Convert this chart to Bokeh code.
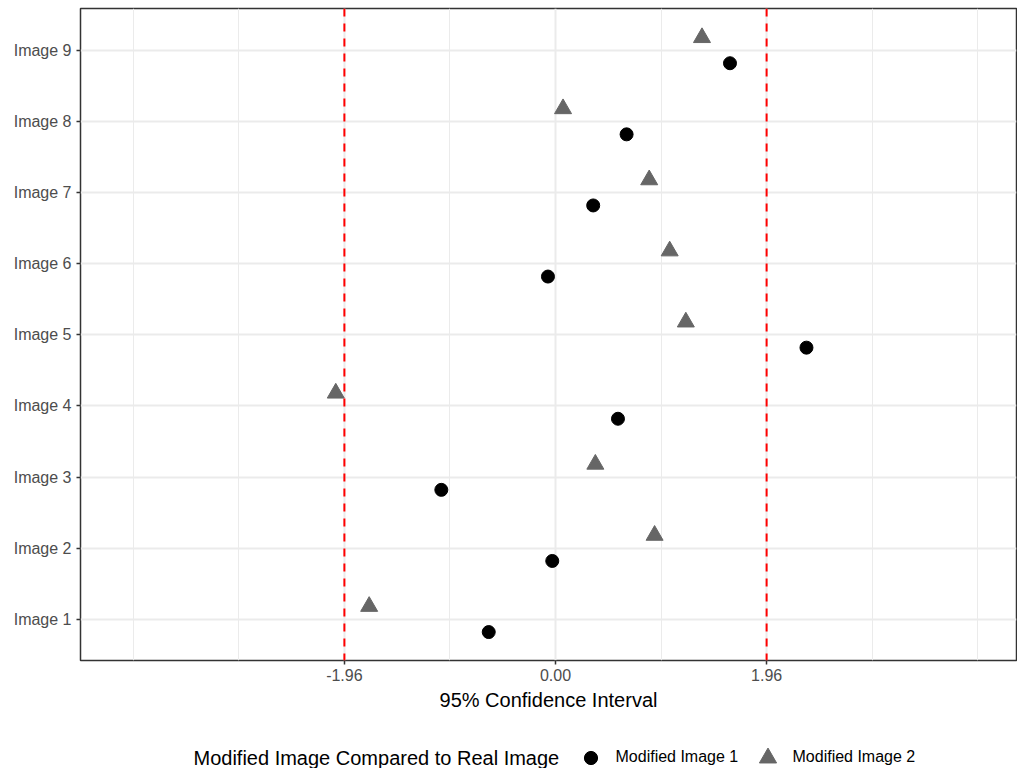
from bokeh.plotting import figure
from bokeh.models import (Range1d, FixedTicker, Span, Legend, LegendItem, Label,
                          ColumnDataSource)
from bokeh.layouts import column
from bokeh.embed import file_html
from bokeh.resources import INLINE

images = ["Image 1", "Image 2", "Image 3", "Image 4", "Image 5",
          "Image 6", "Image 7", "Image 8", "Image 9"]
mod1 = [-0.62, -0.03, -1.06, 0.58, 2.33, -0.07, 0.35, 0.66, 1.62]
mod2 = [-1.73, 0.92, 0.37, -2.04, 1.21, 1.06, 0.87, 0.07, 1.36]
series_names = ["Modified Image 1", "Modified Image 2"]
legend_title = "Modified Image Compared to Real Image"
x_ticks = [-1.96, 0.0, 1.96]
x_tick_labels = ["-1.96", "0.00", "1.96"]
x_minor = [-3.92, -2.94, -0.98, 0.98, 2.94, 3.92]
crit = [-1.96, 1.96]
dodge = 0.18

FONT = "Liberation Sans"
COL1, COL2 = "black", "#666666"

pos = list(range(1, len(images) + 1))
src1 = ColumnDataSource(dict(x=mod1, y=[v - dodge for v in pos]))
src2 = ColumnDataSource(dict(x=mod2, y=[v + dodge for v in pos]))

p = figure(width=1017, height=728, output_backend="svg", toolbar_location=None,
           x_range=Range1d(-4.41, 4.28), y_range=Range1d(0.42, 9.59),
           min_border_left=80, min_border_right=1, min_border_top=8,
           min_border_bottom=68)
p.background_fill_color = "white"
p.border_fill_color = "white"
p.outline_line_color = "#333333"
p.outline_line_width = 1.5

# grids
p.xgrid.ticker = FixedTicker(ticks=x_ticks, minor_ticks=x_minor)
p.xgrid.grid_line_color = "#EBEBEB"
p.xgrid.grid_line_width = 2
p.xgrid.minor_grid_line_color = "#EBEBEB"
p.xgrid.minor_grid_line_width = 1
p.ygrid.ticker = FixedTicker(ticks=pos)
p.ygrid.grid_line_color = "#EBEBEB"
p.ygrid.grid_line_width = 2

# axes
p.xaxis.ticker = FixedTicker(ticks=x_ticks)
p.xaxis.major_label_overrides = {t: l for t, l in zip(x_ticks, x_tick_labels)}
p.yaxis.ticker = FixedTicker(ticks=pos)
p.yaxis.major_label_overrides = {t: l for t, l in zip(pos, images)}
for ax in (p.xaxis, p.yaxis):
    ax.axis_line_color = None
    ax.major_tick_line_color = "#333333"
    ax.major_tick_line_width = 1.5
    ax.major_tick_out = 4
    ax.major_tick_in = 0
    ax.minor_tick_line_color = None
    ax.major_label_text_font = FONT
    ax.major_label_text_font_size = "16px"
    ax.major_label_text_color = "#4D4D4D"
    ax.major_label_standoff = 4
p.yaxis.major_label_standoff = 5
p.xaxis.axis_label = "95% Confidence Interval"
p.xaxis.axis_label_text_font = FONT
p.xaxis.axis_label_text_font_size = "20px"
p.xaxis.axis_label_text_font_style = "normal"
p.xaxis.axis_label_text_color = "black"
p.xaxis.axis_label_standoff = 5

# critical lines
for c in crit:
    p.add_layout(Span(location=c, dimension="height", line_color="#FF0000",
                      line_width=2, line_dash="8 7"))

r1 = dict(marker="circle", size=13, fill_color=COL1, line_color=COL1)
r2 = dict(marker="triangle", size=17, fill_color=COL2, line_color=COL2)
p.scatter("x", "y", source=src1, **r1)
p.scatter("x", "y", source=src2, **r2)

# legend strip below the panel (its frame is aligned with the main frame)
lg = figure(width=1017, height=40, output_backend="svg", toolbar_location=None,
            x_range=Range1d(0, 1017), y_range=Range1d(100, 140),
            min_border_left=0, min_border_right=0, min_border_top=0,
            min_border_bottom=0)
lg.axis.visible = False
lg.grid.visible = False
lg.outline_line_color = None
lg.background_fill_color = "white"
lg.border_fill_color = "white"
# same series, drawn out of this strip's view, only to feed the legend
k1 = lg.scatter("x", "y", source=src1, **r1)
k2 = lg.scatter("x", "y", source=src2, **r2)

common = dict(orientation="horizontal", padding=0, margin=0,
              border_line_color=None, background_fill_alpha=0,
              label_text_font=FONT, label_text_font_size="16px",
              label_text_color="black")
leg1 = Legend(items=[LegendItem(label=series_names[0], renderers=[k1])],
              location=(493.5, -5.5), glyph_width=33, glyph_height=33,
              label_standoff=9, **common)
leg2 = Legend(items=[LegendItem(label=series_names[1], renderers=[k2])],
              location=(665.5, -10.5), glyph_width=43, glyph_height=43,
              label_standoff=4, **common)
lg.add_layout(leg1, "center")
lg.add_layout(leg2, "center")
lg.add_layout(Label(x=113, y=11, x_units="screen", y_units="screen",
                    text=legend_title, text_font=FONT, text_font_size="20px",
                    text_color="black", text_baseline="middle",
                    text_align="left"))

layout = column(p, lg, spacing=0)
open("out.html", "w").write(file_html(layout, INLINE))
